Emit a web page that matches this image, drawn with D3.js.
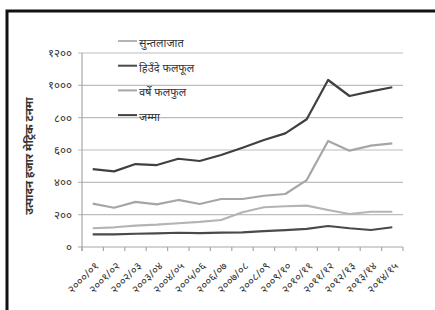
<!DOCTYPE html>
<html>
<head>
<meta charset="utf-8">
<script src="https://cdn.jsdelivr.net/npm/d3@7"></script>
<style>
  body { margin: 0; background: #fff; }
  svg { display: block; font-family: "Noto Sans", "DejaVu Sans", sans-serif; }
</style>
</head>
<body>
<svg id="chart" width="435" height="310"></svg>
<script>
const years = ["२०००/०१", "२००१/०२", "२००२/०३", "२००३/०४", "२००४/०५", "२००५/०६", "२००६/०७",
  "२००७/०८", "२००८/०९", "२००९/१०", "२०१०/११", "२०११/१२", "२०१२/१३", "२०१३/१४", "२०१४/१५"];

// thousand metric tonnes
const citrus = [116, 122, 132, 138, 147, 155, 167, 215, 246, 252, 256, 229, 204, 218, 218];
const winter = [78, 78, 82, 84, 88, 86, 89, 91, 98, 104, 112, 130, 116, 105, 122];
const summer = [268, 243, 279, 264, 291, 266, 297, 297, 317, 328, 414, 656, 596, 627, 641];
const total = [482, 468, 513, 507, 546, 532, 569, 614, 662, 703, 790, 1033, 934, 963, 988];

const yTicks = [0, 200, 400, 600, 800, 1000, 1200];
const yTickLabels = ["०", "२००", "४००", "६००", "८००", "१०००", "१२००"];
const yTitle = "उत्पादन हजार मेट्रिक टनमा";

const series = [
  { name: "सुन्तलाजात", values: citrus, color: "#b4b4b4" },
  { name: "हिउँदे फलफूल", values: winter, color: "#4a4a4a" },
  { name: "वर्षे फलफुल", values: summer, color: "#a6a6a6" },
  { name: "जम्मा", values: total, color: "#404040" }
];

const svg = d3.select("#chart");

// outer frame
svg.append("rect")
  .attr("x", 7).attr("y", 11)
  .attr("width", 460).attr("height", 330)
  .attr("fill", "none")
  .attr("stroke", "#111")
  .attr("stroke-width", 3);

const x = d3.scaleBand().domain(years).range([82, 403]);
const y = d3.scaleLinear().domain([0, 1200]).range([247, 53]);

// gridlines
svg.append("g")
  .selectAll("line")
  .data(yTicks)
  .join("line")
  .attr("x1", 78).attr("x2", 403)
  .attr("y1", (d) => y(d)).attr("y2", (d) => y(d))
  .attr("stroke", (d) => (d === 0 ? "#a8a8a8" : "#bdbdbd"))
  .attr("stroke-width", 1.2);

// y axis line
svg.append("line")
  .attr("x1", 82).attr("x2", 82)
  .attr("y1", y(1200)).attr("y2", y(0) + 4)
  .attr("stroke", "#a8a8a8")
  .attr("stroke-width", 1.2);

// y tick labels
svg.append("g")
  .selectAll("text")
  .data(yTicks)
  .join("text")
  .attr("x", 72)
  .attr("y", (d) => y(d))
  .attr("dy", "0.35em")
  .attr("text-anchor", "end")
  .attr("font-size", 11.5)
  .attr("fill", "#333")
  .text((d, i) => yTickLabels[i]);

// x axis ticks
const xEdges = years.map((d) => x(d)).concat([403]);
svg.append("g")
  .selectAll("line")
  .data(xEdges)
  .join("line")
  .attr("x1", (d) => d).attr("x2", (d) => d)
  .attr("y1", y(0)).attr("y2", y(0) + 4)
  .attr("stroke", "#a8a8a8")
  .attr("stroke-width", 1.2);

// x labels
svg.append("g")
  .selectAll("text")
  .data(years)
  .join("text")
  .attr("transform", (d) => `translate(${x(d) + x.bandwidth() / 2 + 4},${y(0) + 17}) rotate(-45)`)
  .attr("text-anchor", "end")
  .attr("dy", "0.35em")
  .attr("font-size", 11)
  .attr("fill", "#333")
  .text((d) => d);

// y title
svg.append("text")
  .attr("transform", `translate(33,${(y(0) + y(1200)) / 2 + 6}) rotate(-90)`)
  .attr("text-anchor", "middle")
  .attr("font-size", 11.5)
  .attr("font-weight", "bold")
  .attr("fill", "#333")
  .text(yTitle);

// lines
const line = d3.line()
  .x((d, i) => x(years[i]) + x.bandwidth() / 2)
  .y((d) => y(d));

svg.append("g")
  .selectAll("path")
  .data(series)
  .join("path")
  .attr("d", (d) => line(d.values))
  .attr("fill", "none")
  .attr("stroke", (d) => d.color)
  .attr("stroke-width", 2.2)
  .attr("stroke-linejoin", "round");

// legend
const legend = svg.append("g")
  .selectAll("g")
  .data(series)
  .join("g")
  .attr("transform", (d, i) => `translate(118,${41 + i * 24.7})`);

legend.append("line")
  .attr("x1", 0).attr("x2", 19)
  .attr("stroke", (d) => d.color)
  .attr("stroke-width", 2);

legend.append("text")
  .attr("x", 21)
  .attr("y", 6)
  .attr("font-size", 11)
  .attr("fill", "#333")
  .text((d) => d.name);
</script>
</body>
</html>
